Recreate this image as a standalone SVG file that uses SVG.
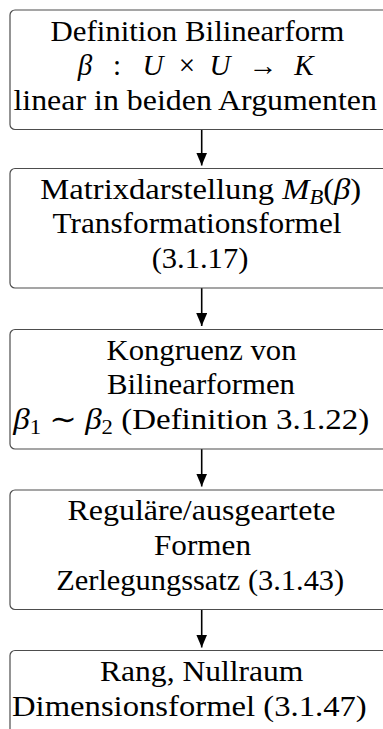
<svg xmlns="http://www.w3.org/2000/svg" width="383" height="729" viewBox="0 0 383 729">
<style>
.box{fill:#fff;stroke:#4d4d4d;stroke-width:1.2}
.t{font-size:29px;fill:#000}
.c{text-anchor:middle}
.i{font-style:italic}
.edge{stroke:#000;stroke-width:1.6;fill:none}
</style>
<defs>
<marker id="ah" markerUnits="userSpaceOnUse" markerWidth="14" markerHeight="12" refX="13" refY="5.5" orient="auto">
<path d="M0,0 L13,5.5 L0,11 z" fill="#000"/>
</marker>
</defs>
<rect width="383" height="729" fill="#fff"/>
<g id="edges">
<line class="edge" x1="201.7" y1="129.5" x2="201.7" y2="165.5" marker-end="url(#ah)"/>
<line class="edge" x1="201.7" y1="288" x2="201.7" y2="326" marker-end="url(#ah)"/>
<line class="edge" x1="201.7" y1="449" x2="201.7" y2="486.5" marker-end="url(#ah)"/>
<line class="edge" x1="201.7" y1="609.5" x2="201.7" y2="647.5" marker-end="url(#ah)"/>
</g>
<g font-family="Liberation Serif, DejaVu Serif, Times New Roman, serif">
<g id="n1">
<rect class="box" x="10" y="10" width="383" height="119.5" rx="5"/>
<text class="t c" x="197.4" y="40.5" textLength="294" lengthAdjust="spacingAndGlyphs">Definition Bilinearform</text>
<text class="t c i" x="85" y="75.3">β</text>
<text class="t c" x="117" y="75.3">:</text>
<text class="t c i" x="153" y="75.3">U</text>
<text class="t c" x="187" y="75.3">×</text>
<text class="t c i" x="220" y="75.3">U</text>
<text class="t c" x="263" y="75.3">→</text>
<text class="t c i" x="304" y="75.3">K</text>
<text class="t c" x="195.2" y="110.1" textLength="363.5" lengthAdjust="spacingAndGlyphs">linear in beiden Argumenten</text>
</g>
<g id="n2">
<rect class="box" x="10" y="168.5" width="383" height="119.5" rx="5"/>
<text class="t c" x="200.7" y="198.5" textLength="321" lengthAdjust="spacingAndGlyphs">Matrixdarstellung <tspan class="i">M</tspan><tspan class="i" font-size="20" dy="5">B</tspan><tspan dy="-5">(</tspan><tspan class="i">β</tspan>)</text>
<text class="t c" x="197" y="233.3" textLength="289" lengthAdjust="spacingAndGlyphs">Transformationsformel</text>
<text class="t c" x="200" y="268.1" textLength="96.7" lengthAdjust="spacingAndGlyphs">(3.1.17)</text>
</g>
<g id="n3">
<rect class="box" x="10" y="329.5" width="383" height="119.5" rx="5"/>
<text class="t c" x="201.5" y="359.5" textLength="190" lengthAdjust="spacingAndGlyphs">Kongruenz von</text>
<text class="t c" x="201" y="394.3" textLength="188" lengthAdjust="spacingAndGlyphs">Bilinearformen</text>
<text class="t" x="13.3" y="429.1" textLength="356" lengthAdjust="spacingAndGlyphs"><tspan class="i">β</tspan><tspan font-size="20" dy="5">1</tspan><tspan dy="-5"> ∼ </tspan><tspan class="i">β</tspan><tspan font-size="20" dy="5">2</tspan><tspan dy="-5"> (Definition 3.1.22)</tspan></text>
</g>
<g id="n4">
<rect class="box" x="10" y="490" width="383" height="119.5" rx="5"/>
<text class="t c" x="201.5" y="520" textLength="268" lengthAdjust="spacingAndGlyphs">Reguläre/ausgeartete</text>
<text class="t c" x="202.5" y="554.8" textLength="97" lengthAdjust="spacingAndGlyphs">Formen</text>
<text class="t c" x="200.2" y="589.6" textLength="288" lengthAdjust="spacingAndGlyphs">Zerlegungssatz (3.1.43)</text>
</g>
<g id="n5">
<rect class="box" x="10" y="650.5" width="383" height="119.5" rx="5"/>
<text class="t c" x="201.7" y="680.8" textLength="203.3" lengthAdjust="spacingAndGlyphs">Rang, Nullraum</text>
<text class="t" x="12" y="715.6" textLength="354.7" lengthAdjust="spacingAndGlyphs">Dimensionsformel (3.1.47)</text>
</g>
</g>
</svg>
